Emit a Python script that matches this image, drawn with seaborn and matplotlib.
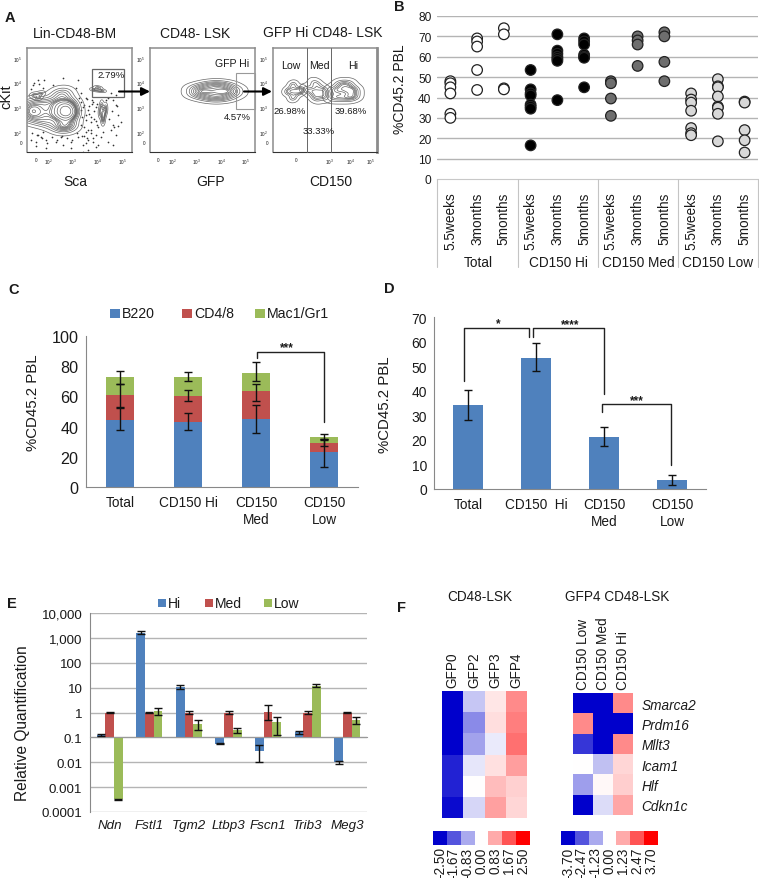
import numpy as np
import pandas as pd
import seaborn as sns
import matplotlib
matplotlib.use('Agg')
import matplotlib.pyplot as plt
from matplotlib.colors import LinearSegmentedColormap
from matplotlib.patches import Rectangle

W, H = 759, 879

# --- panel B data
time_labels = ['5.5weeks', '3months', '5months']
group_labels = ['Total', 'CD150 Hi', 'CD150 Med', 'CD150 Low']
total_values = [[48, 47, 45, 42, 32, 30], [69, 67.5, 65, 53.5, 43.7], [74, 71, 44.5, 44]]
hi_values = [[53.5, 44, 42, 41, 36.5, 35.5, 34.5, 16.5], [71, 63, 61.5, 60, 59, 58, 38.7], [69, 67.5, 66, 61, 60, 59.5, 45]]
med_values = [[48, 47, 39.5, 31], [70, 68, 66, 55.5], [72, 70, 57.5, 48]]
low_values = [[42, 39, 37.5, 33.5, 25, 22.5, 21.5], [49, 45.5, 45, 40.5, 35.5, 35, 32, 18.5], [38, 37.5, 24, 19, 13]]

# --- panel C data
c_labels = ['Total', 'CD150 Hi', 'CD150\nMed', 'CD150\nLow']
b220 = [44.5, 43, 45, 23]
cd48 = [16.5, 17.5, 18.5, 6]
mac1 = [12, 12.5, 12, 4]
b220_lo, b220_hi = [37.5, 37.5, 35.5, 13.5], [52, 49, 54.5, 32]
cd48_lo, cd48_hi = [53, 57, 57, 27], [68.5, 64, 68, 32]
mac1_lo, mac1_hi = [68, 70, 70, 31], [77, 76, 83, 35]

# --- panel D data
d_labels = ['Total', 'CD150  Hi', 'CD150\nMed', 'CD150\nLow']
d_values = [34, 53.5, 21, 3.5]
d_lo = [28, 48, 17.3, 1.8]
d_hi = [40.3, 59.5, 25.2, 5.6]

# --- panel E data
genes = ['Ndn', 'Fstl1', 'Tgm2', 'Ltbp3', 'Fscn1', 'Trib3', 'Meg3']
e_hi = [0.12, 1600, 10.5, 0.055, 0.029, 0.16, 0.0098]
e_med = [1, 1, 1, 1, 1.05, 1, 1]
e_low = [0.00033, 1.15, 0.33, 0.19, 0.4, 12, 0.5]
e_hi_lo, e_hi_up = [0.11, 1400, 8.8, 0.052, 0.01, 0.14, 0.0085], [0.135, 1850, 12.5, 0.062, 0.048, 0.18, 0.0108]
e_med_lo, e_med_up = [0.97, 0.95, 0.85, 0.9, 0.5, 0.87, 0.97], [1.03, 1.05, 1.15, 1.1, 2.05, 1.13, 1.03]
e_low_lo, e_low_up = [0.00031, 0.8, 0.2, 0.15, 0.12, 11, 0.33], [0.00034, 1.45, 0.48, 0.23, 0.65, 13.5, 0.68]
e_ticks = ['0.0001', '0.001', '0.01', '0.1', '1', '10', '100', '1,000', '10,000']

# --- panel F data
f_genes = ['Smarca2', 'Prdm16', 'Mllt3', 'Icam1', 'Hlf', 'Cdkn1c']
gfp_cols = ['GFP0', 'GFP2', 'GFP3', 'GFP4']
gfp_heat = [[-2.5, -0.55, 0.25, 1.15],
            [-2.5, -1.15, 0.33, 1.25],
            [-2.5, -0.9, -0.2, 1.4],
            [-2.15, -0.25, 0.3, 0.95],
            [-2.15, 0.0, 0.65, 0.45],
            [-2.4, -0.4, 0.93, 0.4]]
cd150_cols = ['CD150 Low', 'CD150 Med', 'CD150 Hi']
cd150_heat = [[-3.7, -3.7, 1.7],
              [1.7, -3.7, -3.7],
              [-2.9, -3.7, 1.7],
              [0.0, -0.9, 0.6],
              [-1.4, 0.1, 0.7],
              [-3.7, -0.5, 1.3]]
key_left = [-2.5, -1.67, -0.83, 0.0, 0.83, 1.67, 2.5]
key_right = [-3.7, -2.47, -1.23, 0.0, 1.23, 2.47, 3.7]

# --- panel A: gate populations (log10 position)
a1_main_x = [1.2, 1.2, 1.2, 1.6, 1.6, 1.6, 2.0, 2.0, 2.0, 2.4, 2.4, 2.4, 2.4, 2.7, 2.7, 2.7, 2.7, 2.7, 2.7, 2.9, 2.9, 2.9, 2.9]
a1_main_y = [2.6, 2.85, 3.1, 2.5, 2.85, 3.2, 2.4, 2.8, 3.2, 2.2, 2.7, 3.1, 3.5, 2.2, 2.6, 2.8, 2.9, 3.1, 3.6, 2.3, 2.7, 2.9, 3.2]
a1_right_x = [4.1, 4.25, 4.2, 4.3, 4.15, 4.2]
a1_right_y = [2.8, 2.8, 2.5, 2.95, 3.05, 2.7]
a1_top_x = [3.85, 4.0, 4.15, 4.0]
a1_top_y = [3.72, 3.7, 3.68, 3.8]
a1_corner_x = [1.45, 1.6, 1.7]
a1_corner_y = [3.5, 3.4, 3.55]
a1_dots_x = [1.3, 1.5, 1.7, 1.9, 2.3, 2.6, 2.9, 3.2, 3.4, 3.5, 3.6, 3.7, 3.8, 3.9, 4.0, 3.5, 3.6, 3.3, 3.4, 3.8, 3.9, 4.4, 4.6, 4.7, 4.8, 4.6, 4.5, 4.7, 3.6, 3.9, 4.2, 4.4, 3.3, 3.5, 3.7, 4.0, 4.3, 4.6, 1.4, 1.6, 1.8, 2.2, 2.6, 3.2, 1.6, 1.8, 3.1, 3.3, 3.4, 2.9, 2.5, 1.9, 1.5, 4.5, 4.9, 4.7, 3.95, 3.7, 4.1, 3.5,
             3.25, 3.45, 3.55, 3.65, 3.75, 3.85, 3.95, 3.35, 3.45, 3.6, 3.7, 3.8, 3.9, 3.35, 3.5, 3.65, 3.75, 3.85, 3.3, 3.45, 3.55, 4.45, 4.55, 4.65, 4.75, 4.8, 1.35, 1.55, 1.75, 1.95, 2.15, 2.35, 2.55, 2.75, 2.95, 3.15, 1.3, 1.45, 1.65, 1.85]
a1_dots_y = [1.7, 1.6, 1.8, 1.7, 1.6, 1.5, 1.6, 1.8, 1.5, 2.0, 1.7, 2.1, 1.6, 1.9, 1.5, 2.5, 2.9, 3.2, 3.0, 3.2, 3.0, 3.4, 3.3, 3.1, 2.7, 2.3, 2.1, 1.9, 1.3, 1.4, 2.0, 1.6, 2.3, 2.7, 2.4, 2.2, 3.3, 1.5, 3.9, 4.1, 3.8, 3.9, 4.2, 4.1, 1.9, 2.0, 3.8, 3.6, 1.2, 1.35, 1.8, 1.35, 1.45, 3.6, 2.4, 3.5, 2.3, 2.6, 1.8, 3.4,
             3.4, 3.1, 3.35, 3.05, 3.3, 2.85, 3.15, 2.6, 2.2, 2.1, 1.95, 1.75, 2.45, 1.85, 1.55, 2.75, 3.15, 2.55, 2.9, 1.85, 1.75, 2.55, 2.85, 2.2, 3.05, 2.25, 1.95, 1.9, 1.75, 1.55, 1.8, 1.7, 1.85, 1.75, 1.7, 1.95, 3.75, 4.0, 3.95, 4.1]
a2_x = [3.0, 3.0, 3.0, 3.4, 3.4, 3.4, 3.8, 3.8, 3.8, 3.8, 4.2, 4.2, 4.2, 4.5, 4.5]
a2_y = [3.5, 3.65, 3.8, 3.4, 3.65, 3.9, 3.35, 3.55, 3.75, 3.95, 3.4, 3.65, 3.9, 3.55, 3.75]
a3_left_x = [0.95, 1.2, 1.45, 1.2, 1.2, 1.6]
a3_left_y = [3.65, 3.9, 3.65, 3.4, 3.65, 3.7]
a3_mid_x = [1.9, 2.3, 2.7, 2.3, 2.3, 2.7]
a3_mid_y = [3.7, 3.95, 3.7, 3.4, 3.65, 3.45]
a3_right_x = [3.1, 3.5, 3.9, 4.2, 3.5, 3.9, 3.5, 3.9, 4.2, 3.1]
a3_right_y = [3.7, 3.95, 3.95, 3.7, 3.4, 3.4, 3.7, 3.7, 3.45, 3.4]

BLUE, RED, GREEN = '#4f81bd', '#c0504d', '#9bbb59'
GRID = '#b4b4b4'

sns.set_theme(style='white')
plt.rcParams['font.family'] = ['Liberation Sans', 'DejaVu Sans']
plt.rcParams['mathtext.default'] = 'regular'
plt.rcParams['axes.linewidth'] = 0.8
plt.rcParams['text.color'] = '#1a1a1a'
plt.rcParams['xtick.color'] = '#1a1a1a'
plt.rcParams['ytick.color'] = '#1a1a1a'

fig = plt.figure(figsize=(W / 100, H / 100), dpi=100)


def box(x0, y0, x1, y1):
    # axes from pixel box, y measured from the top
    return fig.add_axes([x0 / W, 1 - y1 / H, (x1 - x0) / W, (y1 - y0) / H])


# overlay for free text and brackets, coordinates are image pixels
ov = fig.add_axes([0, 0, 1, 1], zorder=20)
ov.set_xlim(0, W)
ov.set_ylim(H, 0)
ov.axis('off')
ov.patch.set_alpha(0)


def label(x, y, s, size=9.8, **kw):
    ov.text(x, y, s, fontsize=size, ha=kw.pop('ha', 'center'), va=kw.pop('va', 'center'), **kw)


def bracket(xs, ys):
    ov.plot(xs, ys, color='#222222', lw=1)


for s, x, y in [('A', 10, 18), ('B', 399, 7), ('C', 14, 290), ('D', 389, 289), ('E', 12, 604), ('F', 402, 608)]:
    label(x, y, s, size=10.5, fontweight='bold')


# ---------- A
def flow_axes(x0, x1, xlim, xticks, xlabels):
    ax = box(x0, 49, x1, 153)
    ax.set_xlim(*xlim)
    ax.set_ylim(1.2, 5.4)
    ax.set_xticks(xticks, xlabels, fontsize=3.4)
    ax.set_yticks([1.6, 2, 3, 4, 5], ['0', '$10^2$', '$10^3$', '$10^4$', '$10^5$'], fontsize=3.4)
    ax.tick_params(length=1.5, width=0.5, pad=2)
    for side in ['top', 'left', 'right']:
        ax.spines[side].set_color('#8c8c8c')
        ax.spines[side].set_linewidth(1.1)
    ax.spines['bottom'].set_color('#333333')
    return ax


def contours(ax, xs, ys, bw=1.0, levels=12, thresh=0.04):
    sns.kdeplot(x=xs, y=ys, ax=ax, levels=levels, thresh=thresh, bw_adjust=bw,
                color='#666666', linewidths=0.5)
    ax.set_xlabel('')
    ax.set_ylabel('')


tick_names = ['0', '$10^2$', '$10^3$', '$10^4$', '$10^5$']
a1 = flow_axes(27, 132, (1.16, 5.36), [1.52, 2, 3, 4, 5], tick_names)
sns.scatterplot(x=a1_dots_x, y=a1_dots_y, ax=a1, s=1.5, color='#333333', linewidth=0)
contours(a1, a1_main_x, a1_main_y, bw=0.85, levels=14)
contours(a1, a1_right_x, a1_right_y, bw=0.9, levels=7)
contours(a1, a1_top_x, a1_top_y, bw=0.9, levels=5)
contours(a1, a1_corner_x, a1_corner_y, bw=0.9, levels=4)

a2 = flow_axes(150, 255, (1.08, 5.38), [1.4, 2, 3, 4, 5], tick_names)
contours(a2, a2_x, a2_y, bw=1.0, levels=11)

a3 = flow_axes(273, 377, (0.22, 5.3), [1.35, 3, 4, 5], ['0', '$10^3$', '$10^4$', '$10^5$'])
contours(a3, a3_left_x, a3_left_y, bw=0.9, levels=6)
contours(a3, a3_mid_x, a3_mid_y, bw=0.9, levels=6)
contours(a3, a3_right_x, a3_right_y, bw=0.9, levels=8)
a3.spines['right'].set_linewidth(2)

ov.add_patch(Rectangle((92, 70), 32, 28, fill=False, ec='#666666', lw=0.9))
ov.add_patch(Rectangle((236, 74), 19, 36, fill=False, ec='#999999', lw=0.8))
ov.plot([307, 307], [49, 153], color='#666666', lw=0.7)
ov.plot([331, 331], [49, 153], color='#666666', lw=0.7)
for x0, x1 in [(119, 150), (244, 272)]:
    ov.annotate('', xy=(x1, 92.5), xytext=(x0, 92.5),
                arrowprops=dict(arrowstyle='-|>', color='black', lw=1.5, mutation_scale=12, shrinkA=0, shrinkB=0))

for x, y, s in [(75, 34, 'Lin-CD48-BM'), (195, 34, 'CD48- LSK'), (323, 33, 'GFP Hi CD48- LSK'),
                (75, 182, 'Sca'), (211, 182, 'GFP'), (331, 182, 'CD150')]:
    label(x, y, s, size=10)
label(6, 97, 'cKit', size=10.5, rotation=90)
for x, y, s in [(111, 76, '2.79%'), (237, 117, '4.57%'), (290, 112, '26.98%'), (351, 112, '39.68%'), (319, 132, '33.33%')]:
    label(x, y, s, size=6.8)
for x, y, s in [(232, 64, 'GFP Hi'), (291, 66, 'Low'), (319, 66, 'Med'), (353, 66, 'Hi')]:
    label(x, y, s, size=7.6)

# ---------- B
rows = []
colors_b = {'Total': 'white', 'CD150 Hi': 'black', 'CD150 Med': '#6e6e6e', 'CD150 Low': '#d8d8d8'}
for g, series in zip(group_labels, [total_values, hi_values, med_values, low_values]):
    for t, vals in zip(time_labels, series):
        for v in vals:
            rows.append({'slot': g + ' ' + t, 'group': g, 'value': v})
df_b = pd.DataFrame(rows)
ax = box(437, 17, 758, 180)
for v in range(10, 90, 10):
    ax.axhline(v, color=GRID, lw=1, zorder=0)
sns.stripplot(data=df_b, x='slot', y='value', hue='group', palette=colors_b, jitter=False, size=7.6,
              edgecolor='#222222', linewidth=0.9, legend=False, ax=ax, zorder=3)
ax.set_xlim(-0.5, 11.5)
ax.set_ylim(0, 80)
ax.set_xlabel('')
ax.set_ylabel('')
ax.set_xticks(range(12), time_labels * 4, rotation=90, fontsize=9.8)
ax.set_xticks(np.arange(-0.5, 12), minor=True)
ax.tick_params(axis='x', which='major', length=0, pad=9)
ax.tick_params(axis='x', which='minor', length=2, width=0.6, color=GRID)
ax.set_yticks(range(0, 90, 10))
ax.tick_params(axis='y', length=2, width=0.6, color=GRID, labelsize=8.6, pad=2)
sns.despine(ax=ax, top=True, right=True, left=True)
ax.spines['bottom'].set_color('#c8c8c8')
for x in [437, 518, 598, 678, 758]:
    ov.plot([x, x], [180, 268], color='#c4c4c4', lw=0.8)
for x, s in zip([478, 558, 638, 718], group_labels):
    label(x, 263, s)
label(400, 89, '%CD45.2 PBL', rotation=90, size=10)

# ---------- C
ax = box(86, 337, 358, 488)
tops = np.cumsum([b220, cd48, mac1], axis=0)
for top, col in zip(tops[::-1], [GREEN, RED, BLUE]):
    sns.barplot(x=c_labels, y=top, color=col, saturation=1, width=0.4, linewidth=0, ax=ax, zorder=2)
for top, lo, hi in zip(tops, [b220_lo, cd48_lo, mac1_lo], [b220_hi, cd48_hi, mac1_hi]):
    ax.errorbar(range(4), top, yerr=[top - np.array(lo), np.array(hi) - top], fmt='none', ecolor='#111111',
                elinewidth=1, capsize=3.2, capthick=1, zorder=4)
ax.set_ylim(0, 100)
ax.set_xlim(-0.5, 3.5)
ax.set_xticks(range(4), c_labels, fontsize=9.8)
ax.set_xticks(np.arange(-0.5, 4), minor=True)
ax.tick_params(axis='x', which='major', length=0, pad=6)
ax.tick_params(axis='x', which='minor', length=3.5, width=0.8, color='#888888')
ax.set_yticks(range(0, 120, 20))
ax.tick_params(axis='y', length=3.5, width=0.8, color='#888888', labelsize=11.6, pad=2)
sns.despine(ax=ax)
ax.spines['left'].set_color('#888888')
ax.spines['bottom'].set_color('#888888')
label(33, 403, '%CD45.2 PBL', rotation=90, size=10.8)
bracket([257, 257, 324, 324], [359, 353, 353, 423])
label(287, 348, '***', size=8.5, fontweight='bold')
for x, col, s in [(115, BLUE, 'B220'), (187, RED, 'CD4/8'), (260, GREEN, 'Mac1/Gr1')]:
    ov.add_patch(Rectangle((x - 5, 309.5), 10, 9, fc=col, ec='none'))
    label(x + 7, 314, s, size=10.2, ha='left')

# ---------- D
ax = box(434, 318, 706, 490)
sns.barplot(x=d_labels, y=d_values, color=BLUE, saturation=1, width=0.43, linewidth=0, ax=ax, zorder=2)
vals = np.array(d_values)
ax.errorbar(range(4), vals, yerr=[vals - np.array(d_lo), np.array(d_hi) - vals], fmt='none', ecolor='#111111',
            elinewidth=1, capsize=3.2, capthick=1, zorder=4)
ax.set_ylim(0, 70)
ax.set_xlim(-0.5, 3.5)
ax.set_xticks(range(4), d_labels, fontsize=9.8)
ax.set_xticks(np.arange(-0.5, 4), minor=True)
ax.tick_params(axis='x', which='major', length=0, pad=6)
ax.tick_params(axis='x', which='minor', length=3, width=0.8, color='#888888')
ax.set_yticks(range(0, 80, 10))
ax.tick_params(axis='y', length=3, width=0.8, color='#888888', labelsize=10, pad=2)
sns.despine(ax=ax)
ax.spines['left'].set_color('#888888')
ax.spines['bottom'].set_color('#888888')
label(385, 405, '%CD45.2 PBL', rotation=90, size=10.8)
bracket([464, 464, 529, 529], [382, 329, 329, 338])
bracket([533, 533, 604, 604], [338, 329, 329, 395])
bracket([602, 602, 671, 671], [413, 405, 405, 466])
label(498, 324, '*', size=8.5, fontweight='bold')
label(570, 325, '****', size=8.5, fontweight='bold')
label(637, 401, '***', size=8.5, fontweight='bold')


# ---------- E (bars grow from the 0.1 baseline, so heights are decades away from it)
def decades(v):
    return np.log10(np.array(v)) + 1


df_e = pd.DataFrame({'gene': genes * 3,
                     'level': ['Hi'] * 7 + ['Med'] * 7 + ['Low'] * 7,
                     'value': np.concatenate([decades(e_hi), decades(e_med), decades(e_low)])})
ax = box(90, 614, 367, 813)
for v in range(-3, 6):
    ax.axhline(v, color=GRID, lw=1, zorder=0)
sns.barplot(data=df_e, x='gene', y='value', hue='level', palette=[BLUE, RED, GREEN], saturation=1, width=0.66,
            gap=0, linewidth=0, legend=False, ax=ax, zorder=2)
bar_w = 0.66 / 3
series_e = [(e_hi, e_hi_lo, e_hi_up), (e_med, e_med_lo, e_med_up), (e_low, e_low_lo, e_low_up)]
for i, (v, lo, up) in enumerate(series_e):
    d = decades(v)
    ax.errorbar(np.arange(7) + (i - 1) * bar_w, d, yerr=[d - decades(lo), decades(up) - d], fmt='none',
                ecolor='#111111', elinewidth=1, capsize=2.8, capthick=1, zorder=4)
ax.set_ylim(-3, 5)
ax.set_xlim(-0.5, 6.5)
ax.set_xlabel('')
ax.set_ylabel('')
sns.despine(ax=ax)
# moving the spine resets the ticks, so it comes before they are set
ax.spines['bottom'].set_position(('data', 0))
ax.spines['bottom'].set_color('#999999')
ax.spines['left'].set_color('#888888')
ax.set_xticks(range(7), genes, fontsize=9.6, fontstyle='italic')
ax.set_xticks(np.arange(-0.5, 7), minor=True)
ax.set_yticks(range(-3, 6), e_ticks)
ax.tick_params(axis='y', length=3.5, width=0.8, color='#888888', labelsize=9.6, pad=2)
ax.tick_params(axis='x', which='major', length=0, pad=59)
ax.tick_params(axis='x', which='minor', length=2.5, width=0.8, color='#999999')
label(23, 723, 'Relative Quantification', rotation=90, size=11.2)
for x, col, s in [(162, BLUE, 'Hi'), (209, RED, 'Med'), (268, GREEN, 'Low')]:
    ov.add_patch(Rectangle((x - 4, 600), 7.5, 7.5, fc=col, ec='none'))
    label(x + 6, 604, s, size=10, ha='left')

# ---------- F
heat_cmap = LinearSegmentedColormap.from_list('bwr_key', ['#0000cc', '#ffffff', '#ff0000'])

ax = box(442, 692, 527, 819)
sns.heatmap(pd.DataFrame(gfp_heat, index=f_genes, columns=gfp_cols), cmap=heat_cmap, vmin=-2.5, vmax=2.5,
            cbar=False, xticklabels=gfp_cols, yticklabels=False, ax=ax)
ax.xaxis.tick_top()
ax.tick_params(axis='x', length=0, rotation=90, labelsize=9.8, pad=3)

ax = box(573, 694, 633, 816)
sns.heatmap(pd.DataFrame(cd150_heat, index=f_genes, columns=cd150_cols), cmap=heat_cmap, vmin=-3.7, vmax=3.7,
            cbar=False, xticklabels=cd150_cols, yticklabels=f_genes, ax=ax)
ax.xaxis.tick_top()
ax.yaxis.tick_right()
ax.tick_params(axis='x', length=0, rotation=90, labelsize=9.8, pad=3)
ax.tick_params(axis='y', length=0, rotation=0, labelsize=9.8, pad=6)
for t in ax.get_yticklabels():
    t.set_fontstyle('italic')

label(480, 597, 'CD48-LSK', size=9.8)
label(617, 597, 'GFP4 CD48-LSK', size=9.8)

for (x0, x1), key in [((433, 530), key_left), ((561, 658), key_right)]:
    ax = box(x0, 832, x1, 846)
    lim = max(key)
    sns.heatmap([key], cmap=heat_cmap, vmin=-lim, vmax=lim, cbar=False, yticklabels=False,
                xticklabels=['%.2f' % k for k in key], ax=ax)
    ax.tick_params(axis='x', length=0, rotation=90, labelsize=9.8, pad=1)

fig.savefig('out.png', dpi=100)
